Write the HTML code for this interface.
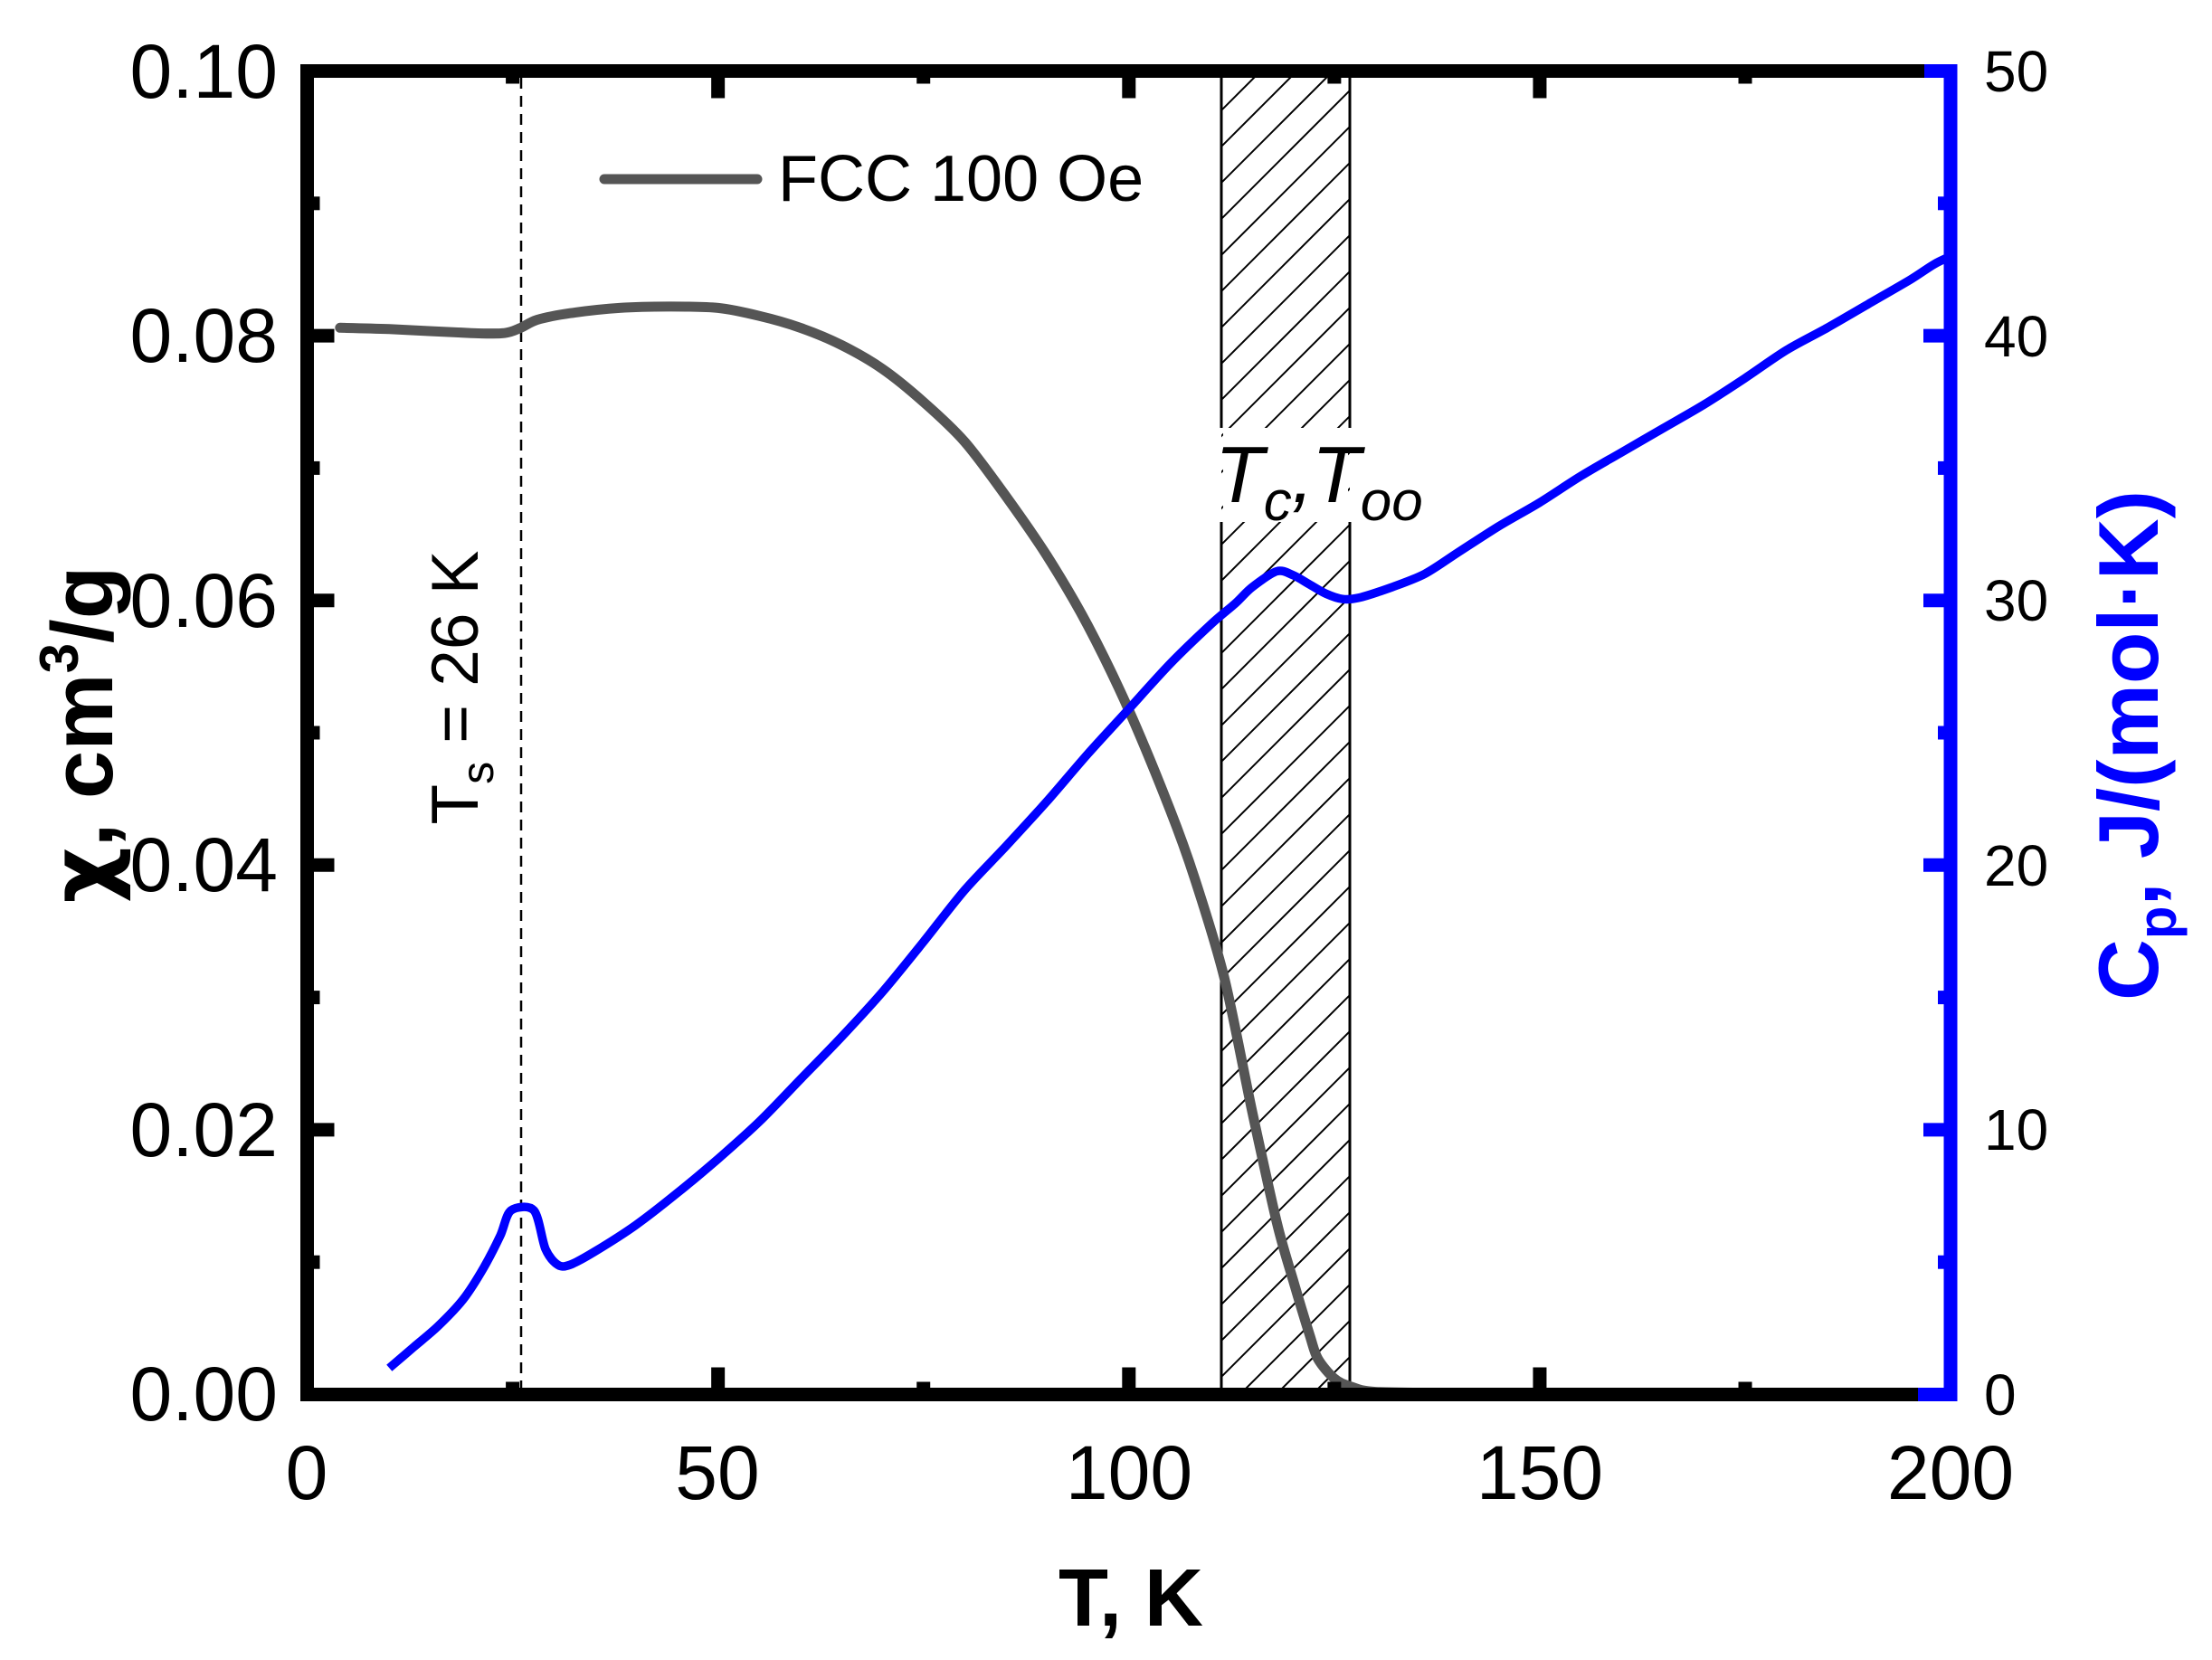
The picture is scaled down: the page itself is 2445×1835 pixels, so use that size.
<!DOCTYPE html>
<html><head><meta charset="utf-8"><style>
html,body{margin:0;padding:0;background:#fff;}
svg{display:block;font-family:"Liberation Sans",Arial,sans-serif;}
</style></head><body>
<svg id="s" width="2445" height="1835" viewBox="0 0 2445 1835" xmlns="http://www.w3.org/2000/svg">
<defs>
<clipPath id="hc"><rect x="1350" y="78" width="142" height="1464"/></clipPath>
</defs>
<g id="hatch" clip-path="url(#hc)" stroke="#000" stroke-width="2"></g>
<rect x="1352" y="473" width="138" height="104" fill="#fff"/>
<line x1="1350" y1="78" x2="1350" y2="473" stroke="#000" stroke-width="3"/>
<line x1="1350" y1="577" x2="1350" y2="1542" stroke="#000" stroke-width="3"/>
<line x1="1492" y1="78" x2="1492" y2="473" stroke="#000" stroke-width="3"/>
<line x1="1492" y1="577" x2="1492" y2="1542" stroke="#000" stroke-width="3"/>
<line x1="576" y1="86" x2="576" y2="1542" stroke="#000" stroke-width="2.5" stroke-dasharray="12,8"/>
<path id="gray" fill="none" stroke="#555" stroke-width="11" stroke-linecap="round" stroke-linejoin="round"/>
<path id="blue" fill="none" stroke="#0000ff" stroke-width="9.5" stroke-linejoin="round"/>
<g id="ticks"></g>
<!-- axes -->
<line x1="332" y1="78.5" x2="2149" y2="78.5" stroke="#000" stroke-width="15"/>
<line x1="332" y1="1541.5" x2="2149" y2="1541.5" stroke="#000" stroke-width="15"/>
<line x1="339.5" y1="71" x2="339.5" y2="1549" stroke="#000" stroke-width="15"/>
<line x1="2156" y1="71" x2="2156" y2="1549" stroke="#0000ff" stroke-width="15"/>
<line x1="2127" y1="78.5" x2="2156" y2="78.5" stroke="#0000ff" stroke-width="15"/>
<line x1="2120" y1="1541.5" x2="2156" y2="1541.5" stroke="#0000ff" stroke-width="15"/>
<g font-size="84" text-anchor="end" fill="#000">
<text x="307" y="108">0.10</text><text x="307" y="400">0.08</text><text x="307" y="693">0.06</text>
<text x="307" y="985">0.04</text><text x="307" y="1278">0.02</text><text x="307" y="1570">0.00</text>
</g>
<g font-size="84" text-anchor="middle" fill="#000">
<text x="339" y="1657">0</text><text x="793" y="1657">50</text><text x="1248" y="1657">100</text>
<text x="1702" y="1657">150</text><text x="2156" y="1657">200</text>
</g>
<g font-size="64" text-anchor="start" fill="#000">
<text x="2193" y="101">50</text><text x="2193" y="394">40</text><text x="2193" y="686">30</text>
<text x="2193" y="979">20</text><text x="2193" y="1271">10</text><text x="2193" y="1564">0</text>
</g>
<text x="1250" y="1797" font-size="90" font-weight="bold" text-anchor="middle">T, K</text>
<text transform="translate(124,812) rotate(-90)" font-size="96" font-weight="bold" text-anchor="middle"><tspan font-family="DejaVu Sans">χ</tspan>, cm<tspan font-size="60" dy="-38">3</tspan><tspan dy="38">/g</tspan></text>
<text transform="translate(2385,824) rotate(-90)" font-size="94" font-weight="bold" text-anchor="middle" fill="#0000ff">C<tspan font-size="60" dy="20">p</tspan><tspan dy="-20">, J/(mol·K)</tspan></text>
<line x1="668" y1="198" x2="837" y2="198" stroke="#555" stroke-width="11" stroke-linecap="round"/>
<text x="860" y="222" font-size="72">FCC 100 Oe</text>
<text transform="translate(528,760) rotate(-90)" font-size="73" text-anchor="middle">T<tspan font-size="50" dy="17">s</tspan><tspan dy="-17"> = 26 K</tspan></text>
<text x="1343" y="555" font-size="88" font-style="italic">T<tspan font-size="62" dy="20">c</tspan><tspan dy="-20">,</tspan><tspan x="1450">T</tspan><tspan font-size="62" dy="20">oo</tspan></text>
</svg>
<script>
var X=function(T){return 339.5+T*9.083;};
var YL=function(v){return 1541.5-v*14630;};
var YR=function(c){return 1541.5-c*29.26;};
var g=[[4,.0806],[10,.0805],[20,.0802],[24,.0802],[26,.0806],[28,.0812],[32,.0817],[38,.0821],[44,.0822],[50,.0821],[55,.0815],[60,.0806],[65,.0793],[70,.0775],[75,.0750],[80,.0720],[85,.0679],[90,.0634],[95,.0581],[100,.0517],[105,.0442],[108,.0390],[111.6,.0315],[115,.0214],[118,.0130],[120,.0086],[122,.0045],[123,.0027],[125,.0012],[127,.0006],[130,.0002],[140,.0001],[150,0],[200,0]];
var b=[[10,1.0],[13,1.8],[16,2.6],[19,3.6],[21.5,4.8],[23.5,6.0],[24.8,6.95],[27.6,6.95],[29,5.5],[30.5,4.9],[32,4.9],[35,5.4],[40,6.4],[45,7.6],[50,8.9],[55,10.3],[60,11.9],[65,13.5],[70,15.2],[75,17.1],[80,19.05],[85,20.7],[90,22.4],[95,24.2],[100,25.9],[105,27.6],[110,29.1],[113,29.9],[115,30.5],[118,31.1],[120,30.95],[122,30.6],[124,30.25],[126,30.05],[128,30.1],[132,30.5],[136,31.0],[140,31.8],[145,32.8],[150,33.7],[155,34.7],[160,35.6],[165,36.5],[170,37.4],[175,38.4],[180,39.45],[185,40.3],[190,41.2],[195,42.1],[198,42.7],[200,43.0]];
function pd(a,fy){var p=a.map(function(q){return [X(q[0]),fy(q[1])];});var d='M'+p[0][0].toFixed(1)+' '+p[0][1].toFixed(1);
for(var i=0;i<p.length-1;i++){var p0=p[i-1]||p[i],p1=p[i],p2=p[i+1],p3=p[i+2]||p2;var t=0.15;
var c1=[p1[0]+(p2[0]-p0[0])*t,p1[1]+(p2[1]-p0[1])*t],c2=[p2[0]-(p3[0]-p1[0])*t,p2[1]-(p3[1]-p1[1])*t];
d+=' C'+c1[0].toFixed(1)+' '+c1[1].toFixed(1)+' '+c2[0].toFixed(1)+' '+c2[1].toFixed(1)+' '+p2[0].toFixed(1)+' '+p2[1].toFixed(1);}return d;}
document.getElementById('gray').setAttribute('d',pd(g,YL));
document.getElementById('blue').setAttribute('d',pd(b,YR));
var hg=document.getElementById('hatch');
for(var x=-1500;x<1550;x+=40){var l=document.createElementNS('http://www.w3.org/2000/svg','line');l.setAttribute('x1',1350+x);l.setAttribute('y1',1542);l.setAttribute('x2',1350+x+1464);l.setAttribute('y2',78);hg.appendChild(l);}
var tg=document.getElementById('ticks');
function ln(x1,y1,x2,y2,c){var l=document.createElementNS('http://www.w3.org/2000/svg','line');l.setAttribute('x1',x1);l.setAttribute('y1',y1);l.setAttribute('x2',x2);l.setAttribute('y2',y2);l.setAttribute('stroke',c);l.setAttribute('stroke-width',15);tg.appendChild(l);}
for(var T=25;T<200;T+=25){var L=(T%50==0)?30:14;ln(X(T),1541.5,X(T),1541.5-L,'#000');ln(X(T),78.5,X(T),78.5+L,'#000');}
for(var i=1;i<10;i++){var v=i*0.01,L=(i%2==0)?30:14;ln(339.5,YL(v),339.5+L,YL(v),'#000');}
for(var i=1;i<10;i++){var c=i*5,L=(i%2==0)?30:14;ln(2156,YR(c),2156-L,YR(c),'#0000ff');}
</script>
</body></html>
